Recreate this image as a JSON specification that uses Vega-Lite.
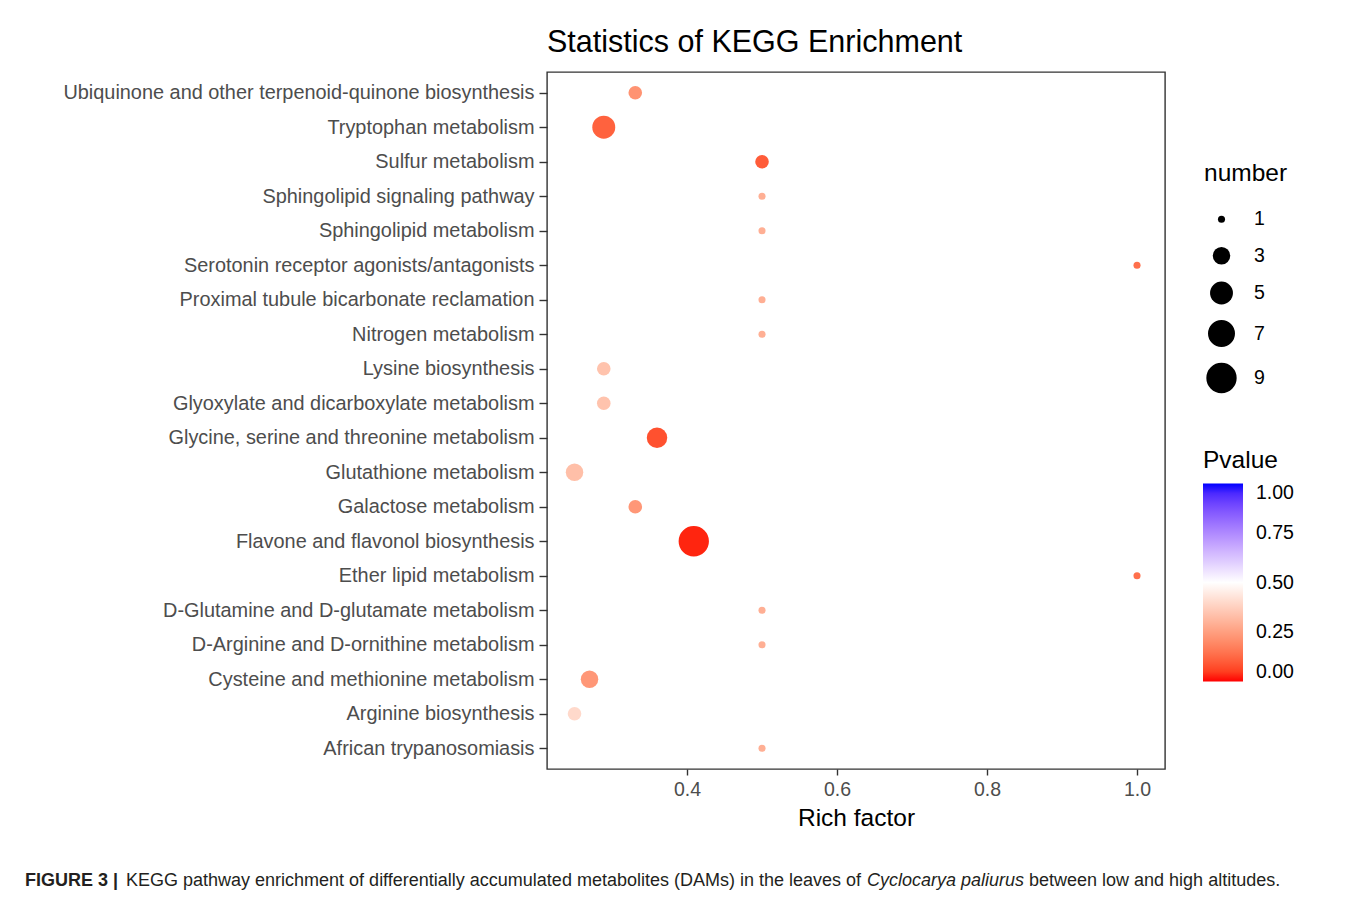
{
  "$schema": "https://vega.github.io/schema/vega-lite/v6.json",
  "background": "white",
  "padding": {"left": 24, "top": 26, "right": 5, "bottom": 5},
  "autosize": {"type": "pad"},
  "config": {"font": "Liberation Sans", "view": {"stroke": null}},
  "spacing": 40,
  "vconcat": [
    {
      "title": {"text": "Statistics of KEGG Enrichment", "anchor": "start", "frame": "group", "fontSize": 30.5, "fontWeight": "normal", "color": "#000000", "offset": 14},
      "width": 618,
      "height": 697,
      "view": {"stroke": "#333333", "strokeWidth": 1.4},
      "data": {"values": [
        {"pathway": "Ubiquinone and other terpenoid-quinone biosynthesis", "richFactor": 0.331, "number": 2, "Pvalue": 0.22},
        {"pathway": "Tryptophan metabolism", "richFactor": 0.289, "number": 5, "Pvalue": 0.11},
        {"pathway": "Sulfur metabolism", "richFactor": 0.5, "number": 2, "Pvalue": 0.1},
        {"pathway": "Sphingolipid signaling pathway", "richFactor": 0.5, "number": 1, "Pvalue": 0.29},
        {"pathway": "Sphingolipid metabolism", "richFactor": 0.5, "number": 1, "Pvalue": 0.29},
        {"pathway": "Serotonin receptor agonists/antagonists", "richFactor": 1.0, "number": 1, "Pvalue": 0.14},
        {"pathway": "Proximal tubule bicarbonate reclamation", "richFactor": 0.5, "number": 1, "Pvalue": 0.29},
        {"pathway": "Nitrogen metabolism", "richFactor": 0.5, "number": 1, "Pvalue": 0.29},
        {"pathway": "Lysine biosynthesis", "richFactor": 0.289, "number": 2, "Pvalue": 0.34},
        {"pathway": "Glyoxylate and dicarboxylate metabolism", "richFactor": 0.289, "number": 2, "Pvalue": 0.34},
        {"pathway": "Glycine, serine and threonine metabolism", "richFactor": 0.36, "number": 4, "Pvalue": 0.08},
        {"pathway": "Glutathione metabolism", "richFactor": 0.25, "number": 3, "Pvalue": 0.33},
        {"pathway": "Galactose metabolism", "richFactor": 0.331, "number": 2, "Pvalue": 0.23},
        {"pathway": "Flavone and flavonol biosynthesis", "richFactor": 0.409, "number": 9, "Pvalue": 0.02},
        {"pathway": "Ether lipid metabolism", "richFactor": 1.0, "number": 1, "Pvalue": 0.14},
        {"pathway": "D-Glutamine and D-glutamate metabolism", "richFactor": 0.5, "number": 1, "Pvalue": 0.29},
        {"pathway": "D-Arginine and D-ornithine metabolism", "richFactor": 0.5, "number": 1, "Pvalue": 0.29},
        {"pathway": "Cysteine and methionine metabolism", "richFactor": 0.27, "number": 3, "Pvalue": 0.23},
        {"pathway": "Arginine biosynthesis", "richFactor": 0.25, "number": 2, "Pvalue": 0.4},
        {"pathway": "African trypanosomiasis", "richFactor": 0.5, "number": 1, "Pvalue": 0.29}
      ]},
      "mark": {"type": "circle", "opacity": 1, "strokeWidth": 0},
      "encoding": {
        "x": {
          "field": "richFactor", "type": "quantitative",
          "scale": {"domain": [0.2133, 1.0373], "nice": false, "zero": false},
          "axis": {"title": "Rich factor", "values": [0.4, 0.6, 0.8, 1.0], "format": ".1f", "grid": false, "domain": false,
                   "tickSize": 6, "tickColor": "#333333", "tickWidth": 1.4, "labelFontSize": 19.5, "labelColor": "#4D4D4D",
                   "labelPadding": 5, "titleFontSize": 24.5, "titleFontWeight": "normal", "titleColor": "#000000", "titlePadding": 8}
        },
        "y": {
          "field": "pathway", "type": "nominal",
          "sort": ["Ubiquinone and other terpenoid-quinone biosynthesis", "Tryptophan metabolism", "Sulfur metabolism", "Sphingolipid signaling pathway", "Sphingolipid metabolism", "Serotonin receptor agonists/antagonists", "Proximal tubule bicarbonate reclamation", "Nitrogen metabolism", "Lysine biosynthesis", "Glyoxylate and dicarboxylate metabolism", "Glycine, serine and threonine metabolism", "Glutathione metabolism", "Galactose metabolism", "Flavone and flavonol biosynthesis", "Ether lipid metabolism", "D-Glutamine and D-glutamate metabolism", "D-Arginine and D-ornithine metabolism", "Cysteine and methionine metabolism", "Arginine biosynthesis", "African trypanosomiasis"],
          "scale": {"type": "point", "padding": 0.6},
          "axis": {"title": null, "grid": false, "domain": false, "tickSize": 8, "tickColor": "#333333", "tickWidth": 1.4,
                   "labelFontSize": 19.9, "labelColor": "#4D4D4D", "labelLimit": 1000, "labelPadding": 5,
                   "minExtent": 522, "maxExtent": 522}
        },
        "size": {
          "field": "number", "type": "quantitative",
          "scale": {"type": "pow", "exponent": 0.8, "domain": [1, 9], "range": [50, 920]},
          "legend": {"title": "number", "orient": "none", "legendX": 657, "legendY": 90, "values": [1, 3, 5, 7, 9],
                     "symbolType": "circle", "symbolFillColor": "#000000", "symbolStrokeWidth": 0, "symbolOpacity": 1, "symbolOffset": 2,
                     "titleFontSize": 24.5, "titleFontWeight": "normal", "titleColor": "#000000", "titlePadding": 23,
                     "labelFontSize": 19.5, "labelColor": "#000000", "labelOffset": 17, "rowPadding": 15.5}
        },
        "color": {
          "field": "Pvalue", "type": "quantitative",
          "scale": {"domain": [0, 0.5, 1], "range": ["#FF0000", "#FFFFFF", "#0000FF"], "interpolate": "lab"},
          "legend": {"title": "Pvalue", "orient": "none", "legendX": 656, "legendY": 377, "direction": "vertical",
                     "gradientLength": 198, "gradientThickness": 40, "gradientStrokeWidth": 0,
                     "values": [0, 0.25, 0.5, 0.75, 1], "format": ".2f",
                     "titleFontSize": 24.5, "titleFontWeight": "normal", "titleColor": "#000000", "titlePadding": 10,
                     "labelFontSize": 19.5, "labelColor": "#000000", "labelOffset": 13}
        }
      }
    },
    {
      "spacing": 5,
      "bounds": "flush",
      "hconcat": [
        {"width": 96, "height": 1, "view": {"stroke": null},
         "title": {"text": "FIGURE 3 |", "anchor": "start", "frame": "group", "dx": -522, "fontSize": 18, "fontWeight": "bold", "color": "#231F20", "offset": 0},
         "data": {"values": [{"a": 1}]}, "mark": {"type": "point", "opacity": 0}, "encoding": {}},
        {"width": 736, "height": 1, "view": {"stroke": null},
         "title": {"text": "KEGG pathway enrichment of differentially accumulated metabolites (DAMs) in the leaves of", "anchor": "start", "frame": "group", "dx": -522, "fontSize": 18, "fontWeight": "normal", "color": "#231F20", "offset": 0},
         "data": {"values": [{"a": 1}]}, "mark": {"type": "point", "opacity": 0}, "encoding": {}},
        {"width": 157, "height": 1, "view": {"stroke": null},
         "title": {"text": "Cyclocarya paliurus", "anchor": "start", "frame": "group", "dx": -522, "fontSize": 18, "fontWeight": "normal", "fontStyle": "italic", "color": "#231F20", "offset": 0},
         "data": {"values": [{"a": 1}]}, "mark": {"type": "point", "opacity": 0}, "encoding": {}},
        {"width": 253, "height": 1, "view": {"stroke": null},
         "title": {"text": "between low and high altitudes.", "anchor": "start", "frame": "group", "dx": -522, "fontSize": 18, "fontWeight": "normal", "color": "#231F20", "offset": 0},
         "data": {"values": [{"a": 1}]}, "mark": {"type": "point", "opacity": 0}, "encoding": {}}
      ]
    }
  ]
}
